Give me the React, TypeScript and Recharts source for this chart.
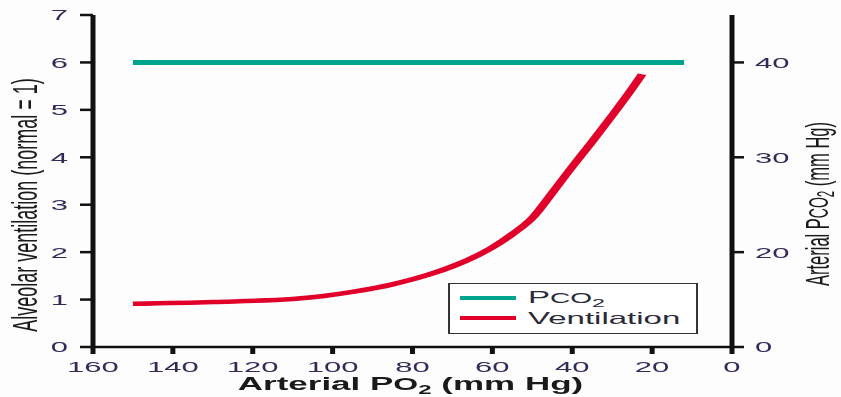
import { LineChart, Line, XAxis, YAxis, Legend, Label } from 'recharts'

// the source figure is drawn at half width and stretched 2x horizontally
const STRETCH = 2
const CHART_W = 841 / STRETCH
const CHART_H = 397
const FONT = '"Liberation Sans", Arial, sans-serif'
const TEAL = '#00a48c'
const RED = '#e0002a'
const TICK_COLOR = '#2e2b5a'

// ventilation curve
const ventPo2 = [150, 130, 110, 95, 85, 75, 70, 65, 60, 55, 50, 45, 40, 35, 30, 25, 22.5]
const ventValues = [0.91, 0.95, 1.01, 1.16, 1.32, 1.55, 1.7, 1.88, 2.1, 2.38, 2.72, 3.25, 3.8, 4.33, 4.88, 5.45, 5.75]

// PCO2 stays flat at 40
const pco2Po2 = [150, 12]
const pco2Values = [40, 40]

const po2Ticks = [0, 20, 40, 60, 80, 100, 120, 140, 160]
const ventTicks = [0, 1, 2, 3, 4, 5, 6, 7]
// the right axis is broken: its bottom tick stands for 0, then 20, 30, 40 evenly spaced
const pco2Ticks = [10, 20, 30, 40]
const pco2TickLabels = ['0', '20', '30', '40']

const ventData = ventPo2.map((po2, i) => ({ po2, ventilation: ventValues[i] }))
const pco2Data = pco2Po2.map((po2, i) => ({ po2, pco2: pco2Values[i] }))

const tickStyle = { fill: TICK_COLOR, fontSize: 15.5, fontFamily: FONT }
const axisStroke = { stroke: '#111', strokeWidth: 2.5 }

function LegendRow({ color, children }: { color: string; children: React.ReactNode }) {
    return (
        <div style={{ display: 'flex', alignItems: 'center', height: 20 }}>
            <span
                style={{
                    display: 'inline-block',
                    width: 27.5,
                    height: 4,
                    background: color,
                    marginRight: 6.5,
                }}
            />
            <span>{children}</span>
        </div>
    )
}

function LegendBox() {
    return (
        <div
            style={{
                boxSizing: 'border-box',
                width: 125,
                height: 51,
                border: '1px solid #333',
                background: '#fff',
                padding: '3.7px 0 0 5.5px',
                fontFamily: FONT,
                fontSize: 16.5,
                lineHeight: '20px',
                color: '#2a2a3a',
            }}
        >
            <LegendRow color={TEAL}>
                P<span style={{ fontSize: '0.85em' }}>CO</span>
                <span style={{ fontSize: '0.7em', position: 'relative', top: 4 }}>2</span>
            </LegendRow>
            <LegendRow color={RED}>Ventilation</LegendRow>
        </div>
    )
}

export default function App() {
    return (
        <div
            style={{
                position: 'absolute',
                left: 0,
                top: 0,
                width: 841,
                height: CHART_H,
                overflow: 'hidden',
                background: '#fdfdfe',
            }}
        >
            <div
                style={{
                    width: CHART_W,
                    height: CHART_H,
                    transform: `scaleX(${STRETCH})`,
                    transformOrigin: '0 0',
                }}
            >
                <LineChart
                    width={CHART_W}
                    height={CHART_H}
                    margin={{ top: 15, right: 0, bottom: 0, left: 0 }}
                >
                    <XAxis
                        type='number'
                        dataKey='po2'
                        domain={[0, 160]}
                        ticks={po2Ticks}
                        reversed
                        height={50}
                        tickSize={7}
                        tickMargin={7.5}
                        tick={tickStyle}
                        axisLine={axisStroke}
                        tickLine={axisStroke}
                    >
                        <Label
                            content={({ viewBox }: any) => (
                                <text
                                    x={viewBox.x + viewBox.width / 2 - 1}
                                    y={viewBox.y + 43.5}
                                    textAnchor='middle'
                                    fontFamily={FONT}
                                    fontSize={17.5}
                                    fontWeight='bold'
                                    fill='#1a1a1a'
                                >
                                    Arterial P<tspan fontSize={16}>O</tspan>
                                    <tspan fontSize={12} dy={4}>2</tspan>
                                    <tspan dy={-4}> (mm Hg)</tspan>
                                </text>
                            )}
                        />
                    </XAxis>
                    <YAxis
                        yAxisId='left'
                        domain={[0, 7]}
                        ticks={ventTicks}
                        width={46.5}
                        tickSize={6.5}
                        tickMargin={6}
                        tick={tickStyle}
                        axisLine={axisStroke}
                        tickLine={axisStroke}
                    >
                        <Label
                            content={() => (
                                <text
                                    x={12}
                                    y={205}
                                    transform='rotate(-90 12 205)'
                                    textAnchor='middle'
                                    dominantBaseline='central'
                                    fontFamily={FONT}
                                    fontSize={18}
                                    fill='#1a1a1a'
                                >
                                    Alveolar ventilation (normal = 1)
                                </text>
                            )}
                        />
                    </YAxis>
                    <YAxis
                        yAxisId='right'
                        orientation='right'
                        domain={[10, 45]}
                        ticks={pco2Ticks}
                        tickFormatter={(v: number) => pco2TickLabels[pco2Ticks.indexOf(v)]}
                        width={54.5}
                        tickSize={6}
                        tickMargin={5.5}
                        tick={tickStyle}
                        axisLine={axisStroke}
                        tickLine={axisStroke}
                    >
                        <Label
                            content={() => (
                                <text
                                    x={409}
                                    y={204}
                                    transform='rotate(-90 409 204)'
                                    textAnchor='middle'
                                    dominantBaseline='central'
                                    fontFamily={FONT}
                                    fontSize={16.5}
                                    fill='#1a1a1a'
                                >
                                    Arterial P<tspan fontSize={14}>CO</tspan>
                                    <tspan fontSize={11.5} dy={4}>2</tspan>
                                    <tspan dy={-4}> (mm Hg)</tspan>
                                </text>
                            )}
                        />
                    </YAxis>
                    <Legend
                        layout='vertical'
                        align='center'
                        verticalAlign='middle'
                        content={() => <LegendBox />}
                        wrapperStyle={{ left: 223.5, top: 283, width: 125 }}
                    />
                    <Line
                        data={pco2Data}
                        yAxisId='right'
                        dataKey='pco2'
                        name='PCO2'
                        stroke={TEAL}
                        strokeWidth={5}
                        dot={false}
                        isAnimationActive={false}
                    />
                    <Line
                        data={ventData}
                        yAxisId='left'
                        type='monotone'
                        dataKey='ventilation'
                        name='Ventilation'
                        stroke={RED}
                        strokeWidth={4.5}
                        dot={false}
                        isAnimationActive={false}
                    />
                </LineChart>
            </div>
        </div>
    )
}
